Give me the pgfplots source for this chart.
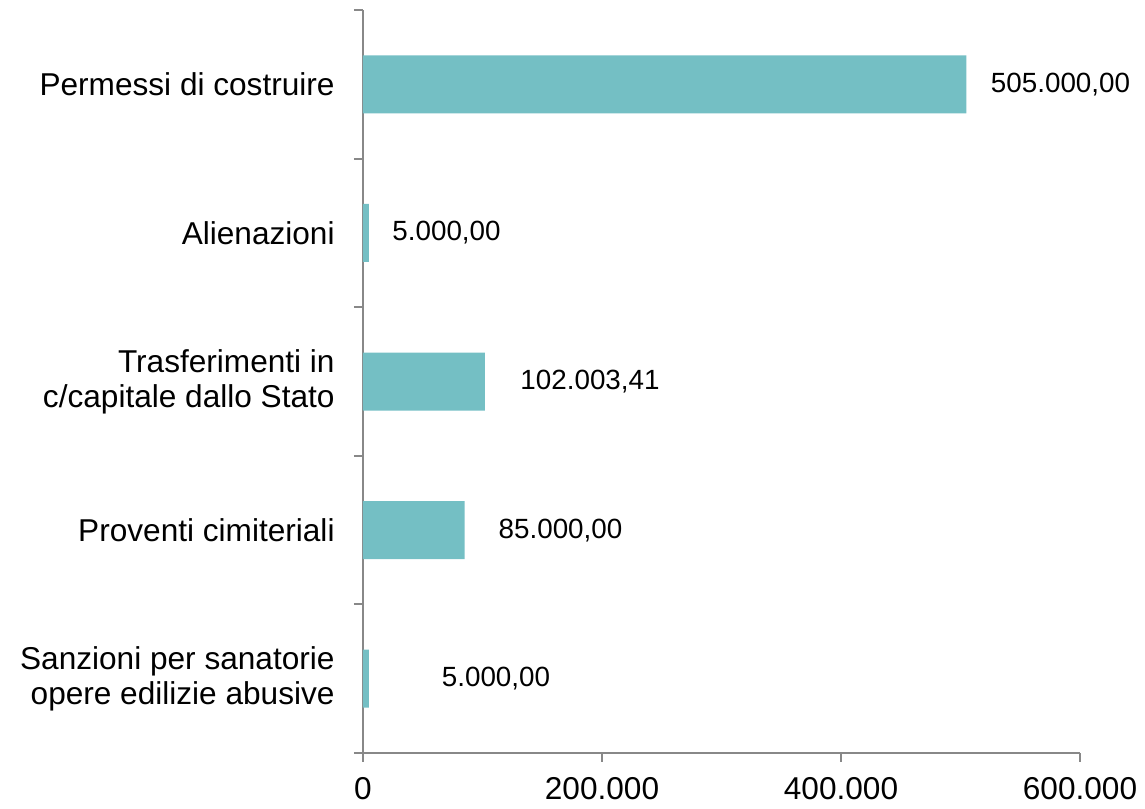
\documentclass[border=0pt]{standalone}
\usepackage{fontspec}
\setmainfont{Liberation Sans}
\usepackage{pgfplots}
\pgfplotsset{compat=1.18}
\definecolor{barc}{HTML}{74BFC4}
\definecolor{axc}{HTML}{888888}
\begin{document}
\begin{tikzpicture}
\useasboundingbox (-181.5bp,-28bp) rectangle (391bp,376.5bp);
\begin{axis}[
  at={(0,0)}, anchor=south west,
  scale only axis, width=358.5bp, height=371.5bp,
  xmin=0, xmax=600000, ymin=-0.5, ymax=4.5,
  enlargelimits=false, clip=false,
  axis x line*=bottom, axis y line*=left,
  axis line style={axc, line width=1bp},
  every tick/.style={axc, line width=1bp},
  tick align=outside,
  xtick={0,200000,400000,600000},
  xticklabels={0,200.000,400.000,600.000},
  scaled x ticks=false,
  /pgf/number format/assume math mode=true,
  major tick length=4.5bp,
  minor tick length=4.5bp,
  ytick={0,1,2,3,4},
  yticklabels={{Sanzioni per sanatorie\\opere edilizie abusive},{Proventi cimiteriali},{Trasferimenti in\\c/capitale dallo Stato},{Alienazioni},{Permessi di costruire}},
  minor ytick={-0.5,0.5,1.5,2.5,3.5,4.5},
  major y tick style={draw=none},
  minor y tick style={axc, line width=1bp},
  yticklabel style={align=right, anchor=east, inner sep=0pt, xshift=-9.5bp, font=\fontsize{15.8bp}{17.5bp}\selectfont},
  xticklabel style={anchor=north, inner sep=0pt, yshift=-7.5bp, font=\fontsize{15.8bp}{17bp}\selectfont},
]
\addplot[xbar, bar width=29bp, fill=barc, draw=none] coordinates {
  (5000,0) (85000,1) (102003.41,2) (5000,3) (505000,4)
};
\addplot[draw=none, mark=none, point meta=explicit symbolic,
  nodes near coords, nodes near coords align={center},
  every node near coord/.append style={anchor=center, inner sep=0pt, font=\fontsize{13.9bp}{15bp}\selectfont}]
coordinates {
  (111300,0) [5.000,00]
  (165300,1) [85.000,00]
  (190000,2) [102.003,41]
  (69900,3) [5.000,00]
  (583700,4) [505.000,00]
};
\end{axis}
\end{tikzpicture}
\end{document}
